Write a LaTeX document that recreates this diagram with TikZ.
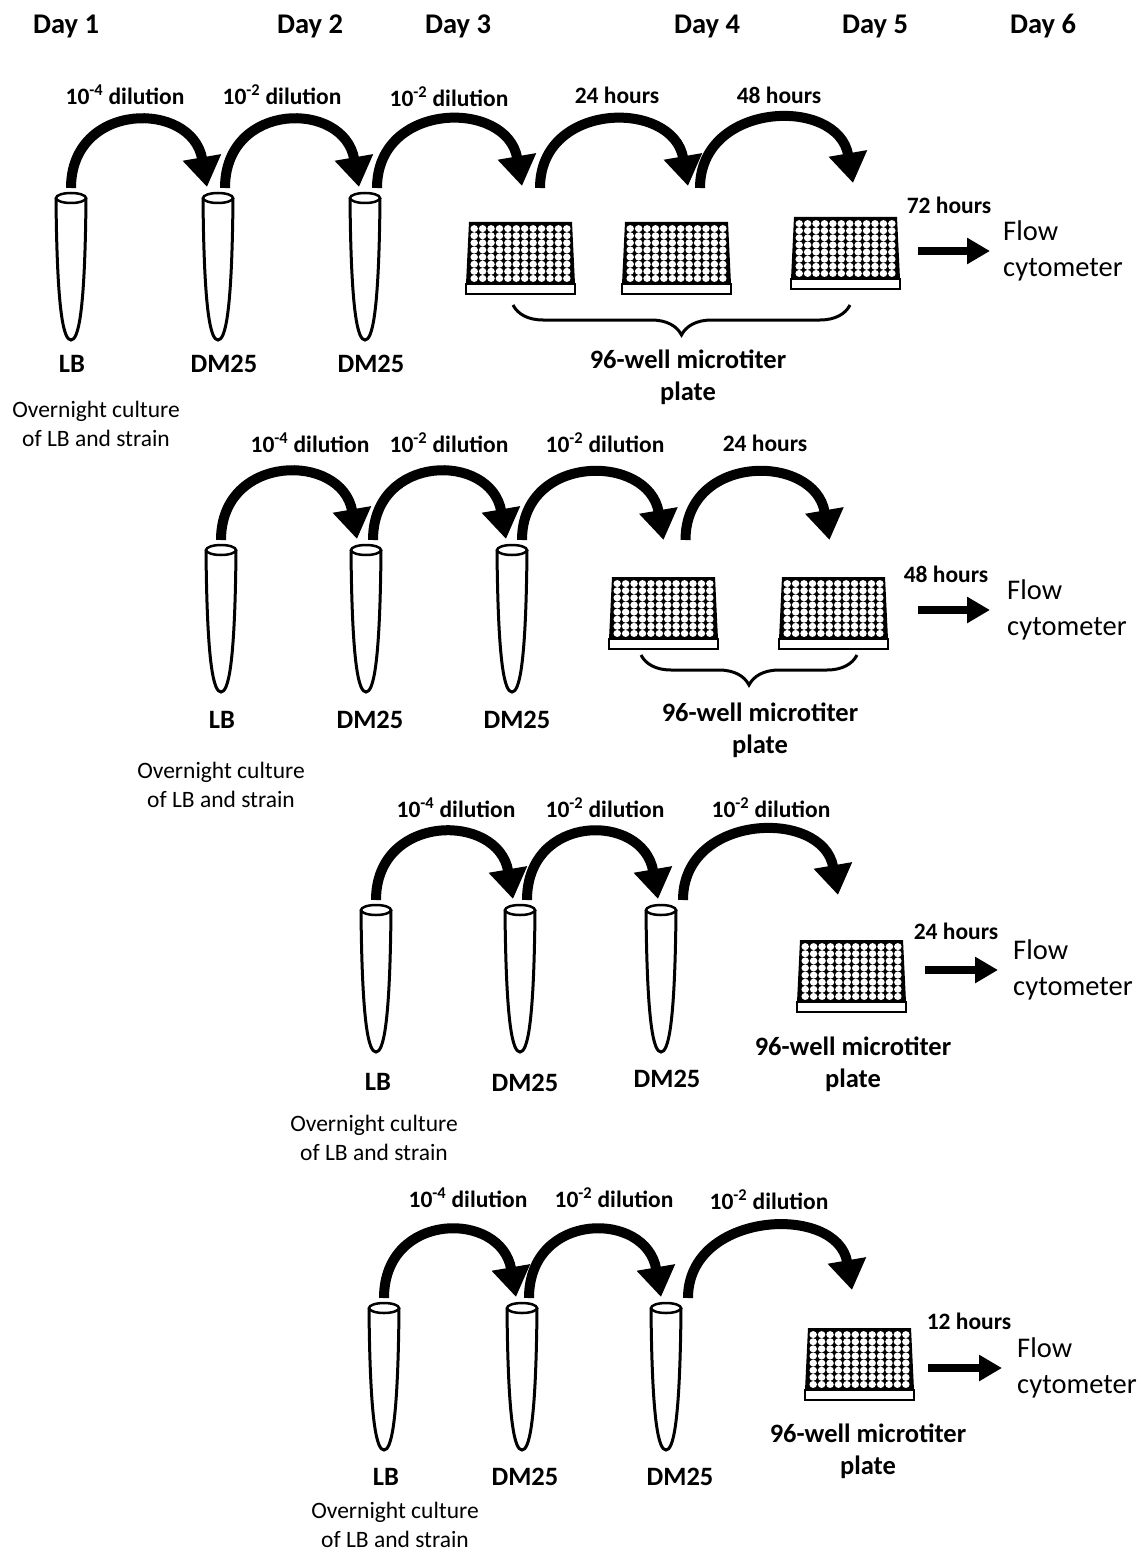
\documentclass[tikz,border=0pt]{standalone}
\usepackage{fontspec}
\setmainfont{Carlito}
\usetikzlibrary{arrows.meta,decorations.pathreplacing}

\begin{document}
\begin{tikzpicture}[x=1pt,y=-1pt,
  day/.style={font=\fontsize{28.5}{33}\selectfont\bfseries, anchor=base},
  steplabel/.style={font=\fontsize{23.5}{28}\selectfont\bfseries},
  tubelabel/.style={font=\fontsize{26.5}{30}\selectfont\bfseries},
  platelabel/.style={font=\fontsize{26.5}{32}\selectfont\bfseries, align=center},
  note/.style={font=\fontsize{23.5}{29.5}\selectfont, align=center},
  flowlabel/.style={font=\fontsize{28.5}{35.5}\selectfont, align=left, anchor=west, inner sep=0pt},
  curvy/.style={line width=10pt, -{Triangle[width=37pt,length=30pt]}},
  straight/.style={line width=8pt, -{Triangle[width=25pt,length=23pt]}},
  bracket/.style={line width=3pt, decorate, decoration={brace,mirror,amplitude=30pt}},
  tube/.pic={
    \draw[line width=3pt, fill=white] (-15,0) .. controls (-14,118) and (-7,142) .. (0,142)
      .. controls (7,142) and (14,118) .. (15,0);
    \draw[line width=2.5pt, fill=white] (0,0) ellipse [x radius=15, y radius=5];
    \coordinate (-c) at (0,0);
  },
  plate/.pic={
    \fill (3,0) -- (106,0) -- (109,62) -- (0,62) -- cycle;
    \foreach \i in {0,...,11}
      \foreach \j in {0,...,7}
        \fill[white] ({8.2+8.42*\i},{6.6+7.12*\j}) ellipse [x radius=3.75, y radius=3.5];
    \draw[line width=2pt, fill=white] (0,62) rectangle (109,72);
    \coordinate (-n) at (54.5,0);
    \coordinate (-e) at (109,36);
  }
]
\useasboundingbox (0,0) rectangle (1140,1554);

% day headers
\node[day] (d1) at (66,34) {Day 1};
\node[day] (d2) at (310,34) {Day 2};
\node[day] (d3) at (458,34) {Day 3};
\node[day] (d4) at (707,34) {Day 4};
\node[day] (d5) at (875,34) {Day 5};
\node[day] (d6) at (1043,34) {Day 6};

% ---------------- first series: 72 hours ----------------
\pic (T11) at (71,198) {tube};
\pic (T12) at (218,198) {tube};
\pic (T13) at (365,198) {tube};
\pic (P11) at (466,222) {plate};
\pic (P12) at (622,222) {plate};
\pic (P13) at (791,217) {plate};

\node[steplabel] (l11) at (125,95) {10\textsuperscript{-4} dilution};
\node[steplabel] (l12) at (282,95) {10\textsuperscript{-2} dilution};
\node[steplabel] (l13) at (449,97) {10\textsuperscript{-2} dilution};
\node[steplabel] (l14) at (617,95) {24 hours};
\node[steplabel] (l15) at (779,95) {48 hours};
\node[steplabel] (l16) at (949,205) {72 hours};

\draw[curvy] ([shift={(0,-10)}]T11-c) .. controls +(0,-87) and +(-15,-87) .. ([shift={(-11,-11)}]T12-c);
\draw[curvy] ([shift={(7,-10)}]T12-c) .. controls +(0,-87) and +(-15,-87) .. ([shift={(-6,-11)}]T13-c);
\draw[curvy] ([shift={(12,-10)}]T13-c) .. controls +(0,-87) and +(-15,-87) .. ([shift={(1.5,-36)}]P11-n);
\draw[curvy] ([shift={(19.5,-34)}]P11-n) .. controls +(0,-87) and +(-15,-87) .. ([shift={(11.5,-36)}]P12-n);
\draw[curvy] ([shift={(23.5,-34)}]P12-n) .. controls +(0,-87) and +(-15,-87) .. ([shift={(7.5,-34)}]P13-n);

\node[tubelabel] (n11) at (72,364) {LB};
\node[tubelabel] (n12) at (224,364) {DM25};
\node[tubelabel] (n13) at (371,364) {DM25};
\node[note] (o1) at (96,424) {Overnight culture\\of LB and strain};

\draw[bracket] (513,305) -- (850,305);
\node[platelabel] (w1) at (688,377) {96-well microtiter\\plate};

\node[flowlabel] (F1) at (1003,251) {Flow\\cytometer};
\draw[straight] ([xshift=18pt]P13-e |- F1.west) -- ([xshift=-13pt]F1.west);

% ---------------- second series: 48 hours ----------------
\pic (T21) at (221,550) {tube};
\pic (T22) at (366,550) {tube};
\pic (T23) at (512,550) {tube};
\pic (P21) at (609,577) {plate};
\pic (P22) at (779,577) {plate};

\node[steplabel] (l21) at (310,443) {10\textsuperscript{-4} dilution};
\node[steplabel] (l22) at (449,443) {10\textsuperscript{-2} dilution};
\node[steplabel] (l23) at (605,443) {10\textsuperscript{-2} dilution};
\node[steplabel] (l24) at (765,443) {24 hours};
\node[steplabel] (l25) at (946,574) {48 hours};

\draw[curvy] ([shift={(0,-10)}]T21-c) .. controls +(0,-87) and +(-15,-87) .. ([shift={(-9,-11)}]T22-c);
\draw[curvy] ([shift={(7,-10)}]T22-c) .. controls +(0,-87) and +(-15,-87) .. ([shift={(-6,-11)}]T23-c);
\draw[curvy] ([shift={(10,-10)}]T23-c) .. controls +(0,-87) and +(-15,-87) .. ([shift={(0,-37)}]P21-n);
\draw[curvy] ([shift={(22,-37)}]P21-n) .. controls +(0,-87) and +(-15,-87) .. ([shift={(-4,-37)}]P22-n);

\node[tubelabel] (n21) at (222,720) {LB};
\node[tubelabel] (n22) at (370,720) {DM25};
\node[tubelabel] (n23) at (517,720) {DM25};
\node[note] (o2) at (221,785) {Overnight culture\\of LB and strain};

\draw[bracket] (641,655) -- (857,655);
\node[platelabel] (w2) at (760,730) {96-well microtiter\\plate};

\node[flowlabel] (F2) at (1007,610) {Flow\\cytometer};
\draw[straight] ([xshift=30pt]P22-e |- F2.west) -- ([xshift=-17pt]F2.west);

% ---------------- third series: 24 hours ----------------
\pic (T31) at (376,910) {tube};
\pic (T32) at (520,910) {tube};
\pic (T33) at (661,910) {tube};
\pic (P31) at (797,940) {plate};

\node[steplabel] (l31) at (456,808) {10\textsuperscript{-4} dilution};
\node[steplabel] (l32) at (605,808) {10\textsuperscript{-2} dilution};
\node[steplabel] (l33) at (771,808) {10\textsuperscript{-2} dilution};
\node[steplabel] (l34) at (956,931) {24 hours};

\draw[curvy] ([shift={(0,-10)}]T31-c) .. controls +(0,-87) and +(-15,-87) .. ([shift={(-7,-11)}]T32-c);
\draw[curvy] ([shift={(7,-10)}]T32-c) .. controls +(0,-87) and +(-15,-87) .. ([shift={(-3,-11)}]T33-c);
\draw[curvy] ([shift={(22,-10)}]T33-c) .. controls +(0,-87) and +(-15,-87) .. ([shift={(-13.5,-45)}]P31-n);

\node[tubelabel] (n31) at (378,1082) {LB};
\node[tubelabel] (n32) at (525,1083) {DM25};
\node[tubelabel] (n33) at (667,1079) {DM25};
\node[note] (o3) at (374,1138) {Overnight culture\\of LB and strain};

\node[platelabel] (w3) at (853,1064) {96-well microtiter\\plate};

\node[flowlabel] (F3) at (1013,970) {Flow\\cytometer};
\draw[straight] ([xshift=19pt]P31-e |- F3.west) -- ([xshift=-15pt]F3.west);

% ---------------- fourth series: 12 hours ----------------
\pic (T41) at (384,1308) {tube};
\pic (T42) at (522,1308) {tube};
\pic (T43) at (666,1308) {tube};
\pic (P41) at (805,1328) {plate};

\node[steplabel] (l41) at (468,1198) {10\textsuperscript{-4} dilution};
\node[steplabel] (l42) at (614,1198) {10\textsuperscript{-2} dilution};
\node[steplabel] (l43) at (769,1200) {10\textsuperscript{-2} dilution};
\node[steplabel] (l44) at (969,1321) {12 hours};

\draw[curvy] ([shift={(0,-10)}]T41-c) .. controls +(0,-87) and +(-15,-87) .. ([shift={(-6,-11)}]T42-c);
\draw[curvy] ([shift={(7,-10)}]T42-c) .. controls +(0,-87) and +(-15,-87) .. ([shift={(-5,-11)}]T43-c);
\draw[curvy] ([shift={(22,-10)}]T43-c) .. controls +(0,-87) and +(-15,-87) .. ([shift={(-7.5,-38)}]P41-n);

\node[tubelabel] (n41) at (386,1477) {LB};
\node[tubelabel] (n42) at (525,1477) {DM25};
\node[tubelabel] (n43) at (680,1477) {DM25};
\node[note] (o4) at (395,1525) {Overnight culture\\of LB and strain};

\node[platelabel] (w4) at (868,1451) {96-well microtiter\\plate};

\node[flowlabel] (F4) at (1017,1368) {Flow\\cytometer};
\draw[straight] ([xshift=14pt]P41-e |- F4.west) -- ([xshift=-15pt]F4.west);

\end{tikzpicture}
\end{document}
